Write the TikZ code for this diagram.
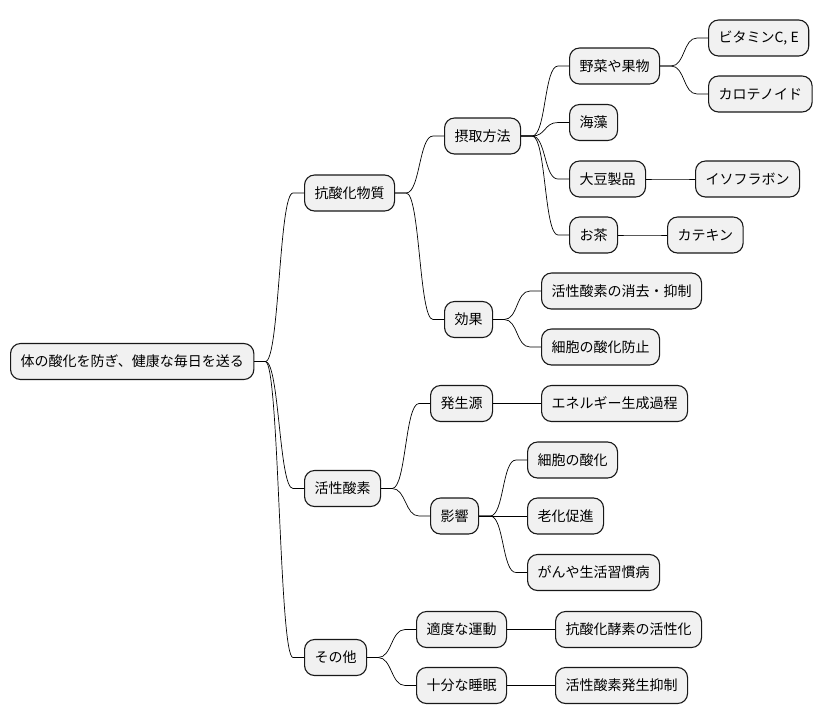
\documentclass[tikz,border=0pt]{standalone}
\usepackage{fontspec}
\setmainfont{Noto Sans CJK JP}
\usepackage{xcolor}
\definecolor{boxfill}{HTML}{F1F1F1}
\definecolor{boxline}{HTML}{181818}

\begin{document}
\begin{tikzpicture}[
    x=1pt, y=-1pt,
    topic/.style={rectangle, draw=boxline, line width=1.1pt, fill=boxfill, rounded corners=10pt,
        minimum height=36pt, inner xsep=10pt, anchor=west, font=\fontsize{14}{16}\selectfont},
    link/.style={line width=0.7pt, to path={-- ++(11,0) .. controls +(14,0) and +(-14,0) .. ([xshift=-11pt]\tikztotarget) -- (\tikztotarget)}}
]
    \useasboundingbox (0,0) rectangle (824,724);

    \node[topic] (root) at (10,361.5) {体の酸化を防ぎ、健康な毎日を送る};

    \node[topic] (antiox) at (304,193) {抗酸化物質};
    \node[topic] (radical) at (304,488.5) {活性酸素};
    \node[topic] (other) at (304,657.5) {その他};

    \node[topic] (intake) at (444,136) {摂取方法};
    \node[topic] (effect) at (444,319.5) {効果};
    \node[topic] (source) at (430,403.5) {発生源};
    \node[topic] (impact) at (430,516) {影響};
    \node[topic] (exercise) at (416,629.5) {適度な運動};
    \node[topic] (sleep) at (416,685.5) {十分な睡眠};

    \node[topic] (veg) at (569,66) {野菜や果物};
    \node[topic] (seaweed) at (569,122.5) {海藻};
    \node[topic] (soy) at (569,179) {大豆製品};
    \node[topic] (tea) at (569,235) {お茶};
    \node[topic] (scavenge) at (541,291) {活性酸素の消去・抑制};
    \node[topic] (prevent) at (541,347) {細胞の酸化防止};
    \node[topic] (energy) at (541,403.5) {エネルギー生成過程};
    \node[topic] (oxcell) at (527,460) {細胞の酸化};
    \node[topic] (aging) at (527,516) {老化促進};
    \node[topic] (disease) at (527,572.5) {がんや生活習慣病};
    \node[topic] (enzyme) at (555,629.5) {抗酸化酵素の活性化};
    \node[topic] (suppress) at (555,685.5) {活性酸素発生抑制};

    \node[topic] (vitamin) at (708,38) {ビタミンC,\ E};
    \node[topic] (carot) at (708,94) {カロテノイド};
    \node[topic] (isofl) at (695,179) {イソフラボン};
    \node[topic] (catechin) at (667,235) {カテキン};

    \draw[link] (root.east) to (antiox.west);
    \draw[link] (root.east) to (radical.west);
    \draw[link] (root.east) to (other.west);

    \draw[link] (antiox.east) to (intake.west);
    \draw[link] (antiox.east) to (effect.west);
    \draw[link] (intake.east) to (veg.west);
    \draw[link] (intake.east) to (seaweed.west);
    \draw[link] (intake.east) to (soy.west);
    \draw[link] (intake.east) to (tea.west);
    \draw[link] (veg.east) to (vitamin.west);
    \draw[link] (veg.east) to (carot.west);
    \draw[link] (soy.east) to (isofl.west);
    \draw[link] (tea.east) to (catechin.west);
    \draw[link] (effect.east) to (scavenge.west);
    \draw[link] (effect.east) to (prevent.west);

    \draw[link] (radical.east) to (source.west);
    \draw[link] (radical.east) to (impact.west);
    \draw[link] (source.east) to (energy.west);
    \draw[link] (impact.east) to (oxcell.west);
    \draw[link] (impact.east) to (aging.west);
    \draw[link] (impact.east) to (disease.west);

    \draw[link] (other.east) to (exercise.west);
    \draw[link] (other.east) to (sleep.west);
    \draw[link] (exercise.east) to (enzyme.west);
    \draw[link] (sleep.east) to (suppress.west);
\end{tikzpicture}
\end{document}
